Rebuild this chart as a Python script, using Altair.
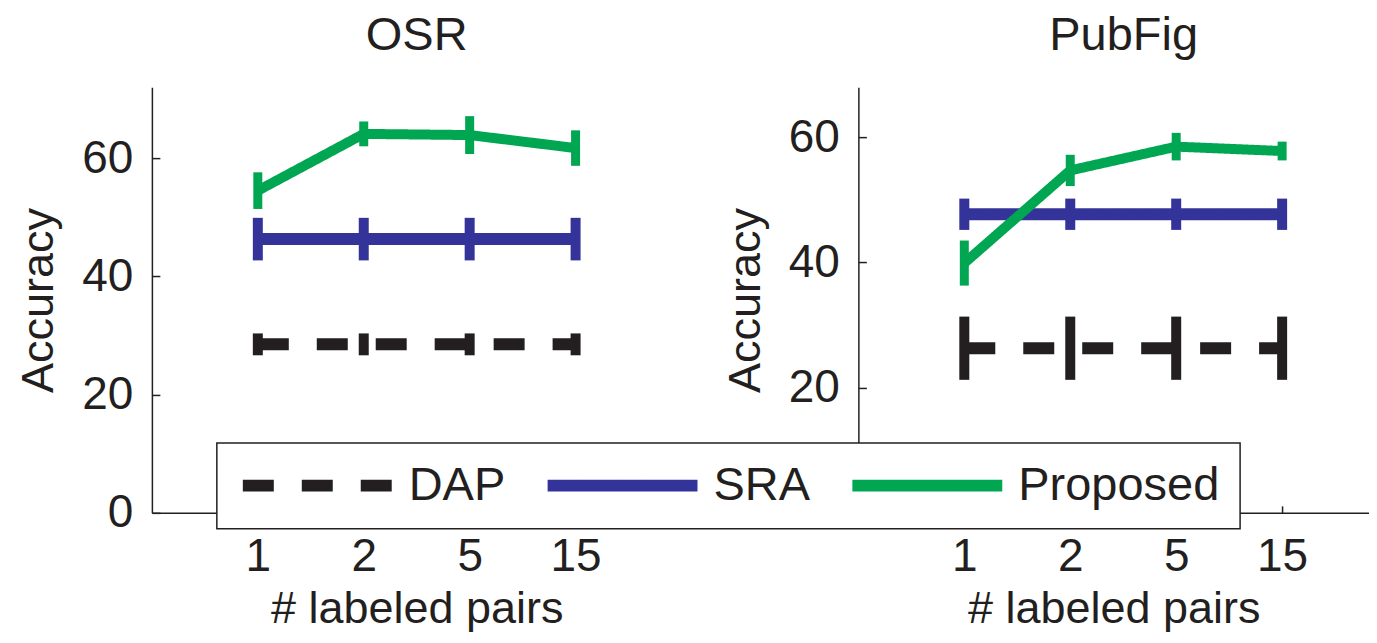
import altair as alt
import pandas as pd

pairs = ["1", "2", "5", "15"]
methods = ["DAP", "SRA", "Proposed"]
colors = ["#231F20", "#333399", "#00A651"]
line_widths = [12, 12, 10]
bar_widths = [10, 10, 9]
y_ticks = [0, 20, 40, 60]

osr_dap = [28.5, 28.5, 28.5, 28.5]
osr_dap_err = [1.85, 1.85, 1.85, 1.85]
osr_sra = [46.3, 46.3, 46.3, 46.3]
osr_sra_err = [3.6, 3.6, 3.6, 3.6]
osr_prop = [54.5, 64.1, 63.9, 61.7]
osr_prop_err = [3.1, 2.1, 3.2, 3.0]

pub_dap = [26.3, 26.3, 26.3, 26.3]
pub_dap_err = [5.05, 5.05, 5.05, 5.05]
pub_sra = [47.7, 47.7, 47.7, 47.7]
pub_sra_err = [2.5, 2.5, 2.5, 2.5]
pub_prop = [39.9, 54.7, 58.5, 57.8]
pub_prop_err = [3.6, 2.5, 2.2, 1.5]

series = {
    "OSR": [(osr_dap, osr_dap_err), (osr_sra, osr_sra_err), (osr_prop, osr_prop_err)],
    "PubFig": [(pub_dap, pub_dap_err), (pub_sra, pub_sra_err), (pub_prop, pub_prop_err)],
}

rows = []
for ds, lst in series.items():
    for m, (vals, errs) in zip(methods, lst):
        for i, (v, e) in enumerate(zip(vals, errs)):
            rows.append({"dataset": ds, "method": m, "pos": i + 1, "pairs": pairs[i],
                         "acc": v, "lo": v - e, "hi": v + e})
df = pd.DataFrame(rows)

FONT = "Liberation Sans"
TXT = "#231F20"
label_expr = "[" + ",".join("'%s'" % p for p in pairs) + "][datum.value - 1]"
x_positions = list(range(1, len(pairs) + 1))
leg = alt.Legend(title=None, orient="none", legendX=65, legendY=356,
                 direction="horizontal", columns=3)


def panel(name, ymax, xmax, w, dx):
    base = alt.Chart(df).transform_filter(alt.datum.dataset == name)
    xscale = alt.Scale(domain=[0, xmax], nice=False, zero=False)
    yscale = alt.Scale(domain=[0, ymax], nice=False)
    main_x = alt.X("pos:Q", scale=xscale,
                   axis=alt.Axis(values=x_positions, labelExpr=label_expr, title="# labeled pairs"))
    main_y = alt.Y("lo:Q", scale=yscale, axis=alt.Axis(values=y_ticks, title="Accuracy"))
    color = alt.Color("method:N", scale=alt.Scale(domain=methods, range=colors), legend=leg)
    dash = alt.StrokeDash("method:N",
                          scale=alt.Scale(domain=methods, range=[[31, 28], [1, 0], [1, 0]]),
                          legend=leg)
    layers = []
    first = True
    for m, lw, bw in zip(methods, line_widths, bar_widths):
        b = base.transform_filter(alt.datum.method == m)
        if first:
            xe, ye = main_x, main_y
            first = False
        else:
            xe = alt.X("pos:Q", scale=xscale, axis=None)
            ye = alt.Y("lo:Q", scale=yscale, axis=None)
        layers.append(b.mark_rule(strokeCap="butt", strokeWidth=bw).encode(
            x=xe, y=ye, y2="hi:Q", color=color))
        layers.append(b.mark_line(strokeCap="butt", strokeWidth=lw).encode(
            x=alt.X("pos:Q", scale=xscale, axis=None),
            y=alt.Y("acc:Q", scale=yscale, axis=None),
            color=color, strokeDash=dash, order="pos:Q"))
    # inward tick marks (axis drawn inside the plot)
    ticks = base.mark_point(opacity=0).encode(
        x=alt.X("pos:Q", scale=xscale,
                axis=alt.Axis(orient="bottom", offset=-7, tickSize=7, ticks=True, labels=False,
                              domain=False, title=None, values=x_positions,
                              tickColor=TXT, tickWidth=1.5)),
        y=alt.Y("acc:Q", scale=yscale,
                axis=alt.Axis(orient="left", offset=-8, tickSize=8, ticks=True, labels=False,
                              domain=False, title=None, values=y_ticks,
                              tickColor=TXT, tickWidth=1.5)),
    )
    layers.append(ticks)
    return alt.layer(*layers).resolve_axis(x="independent", y="independent").properties(
        width=w, height=426, title=alt.TitleParams(name, dx=dx))


chart = alt.hconcat(
    panel("OSR", 72, 5, 530, 0),
    panel("PubFig", 68, 4.82, 511, 10),
    spacing=41,
).properties(padding={"left": 8, "top": 4, "right": 0, "bottom": 0}).configure(
    font=FONT
).configure_view(stroke=None).configure_axis(
    labelFont=FONT, titleFont=FONT, labelFontSize=46, titleFontSize=45,
    labelColor=TXT, titleColor=TXT, titleFontWeight="normal",
    domainColor=TXT, domainWidth=1.5, ticks=False, grid=False,
    labelPadding=19,
).configure_axisY(titlePadding=20).configure_axisX(labelPadding=22, titlePadding=7).configure_title(
    fontSize=47, font=FONT, fontWeight="normal", color=TXT, offset=27
).configure_legend(
    fillColor="white", strokeColor=TXT, strokeWidth=1.5, padding=20, clipHeight=45,
    symbolType="stroke", symbolSize=22500, symbolStrokeWidth=12,
    labelFont=FONT, labelFontSize=47, labelColor=TXT, labelOffset=10,
    columnPadding=36, labelLimit=0,
)

chart.save("out.html", embed_options={"renderer": "svg", "actions": False})
